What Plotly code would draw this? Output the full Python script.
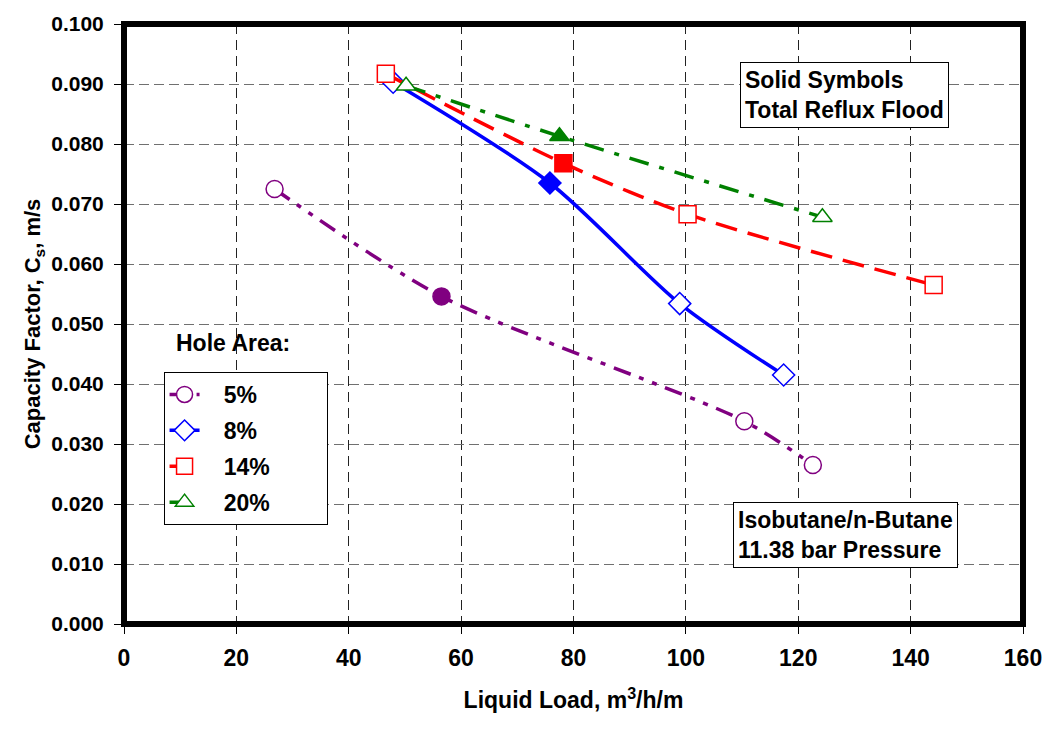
import plotly.graph_objects as go

# Data
x_5 = [26.8, 56.5, 110.4, 122.6]
y_5 = [0.0725, 0.0546, 0.0338, 0.0265]
solid_5 = [False, True, False, False]

x_8 = [47.9, 75.8, 98.9, 117.4]
y_8 = [0.0903, 0.0735, 0.0534, 0.0415]
solid_8 = [False, True, False, False]

x_14 = [46.6, 78.2, 100.3, 144.1]
y_14 = [0.0917, 0.0768, 0.0683, 0.0565]
solid_14 = [False, True, False, False]

x_20 = [50.2, 77.5, 124.3]
y_20 = [0.0897, 0.0813, 0.0678]
solid_20 = [False, True, False]

legend_names = ["5%", "8%", "14%", "20%"]

series = [
    (legend_names[0], x_5, y_5, solid_5, "#800080", "circle", 17, "18px,9px,5px,9px,5px,9px"),
    (legend_names[1], x_8, y_8, solid_8, "#0000FF", "diamond", 17, "solid"),
    (legend_names[2], x_14, y_14, solid_14, "#FF0000", "square", 17, "22px,11px"),
    (legend_names[3], x_20, y_20, solid_20, "#008000", "triangle-up", 17, "20px,11px,5px,11px"),
]

NB = "\u00a0"
fig = go.Figure()
for name, xs, ys, solid, color, sym, size, dash in series:
    fig.add_trace(go.Scatter(
        x=xs, y=ys, name=NB * 3 + name + NB * 8, mode="lines+markers", legendgroup=name,
        line=dict(color=color, width=3.5, dash=dash, shape="spline", smoothing=0.8),
        marker=dict(symbol=sym, size=size,
                    color=[color if s else "white" for s in solid],
                    line=dict(color=color, width=1.5)),
    ))

font_family = "Liberation Sans, Arial, sans-serif"
axis_common = dict(
    showline=False,
    ticks="outside", ticklen=9, tickcolor="black", tickwidth=1,
    showgrid=True, gridwidth=1.3,
    zeroline=False,
)

fig.update_xaxes(
    range=[0, 160], dtick=20, gridcolor="#222222", griddash="10px,6px",
    ticklabelstandoff=4,
    tickfont=dict(family=font_family, size=23, color="black", weight="bold"),
    title=dict(text="Liquid Load, m<sup>3</sup>/h/m", standoff=22,
               font=dict(family=font_family, size=23, color="black", weight="bold")),
    **axis_common,
)
fig.update_yaxes(
    range=[0, 0.1], dtick=0.01, tickformat=".3f", gridcolor="#707070", griddash="10px,5px",
    ticklabelstandoff=6,
    tickfont=dict(family=font_family, size=21, color="black", weight="bold"),
    title=dict(text="Capacity Factor, C<sub>s</sub>, m/s", standoff=4,
               font=dict(family=font_family, size=22, color="black", weight="bold")),
    **axis_common,
)

# thick plot frame
fig.add_shape(type="rect", xref="paper", yref="paper", x0=0, y0=0, x1=1, y1=1,
              line=dict(color="black", width=6), layer="above")

fig.add_annotation(
    x=0.056, y=0.468, xref="paper", yref="paper", xanchor="left", yanchor="middle",
    text="<b>Hole Area:</b>", showarrow=False,
    font=dict(family=font_family, size=23, color="black"),
)
fig.add_annotation(
    x=0.6855, y=0.827, xref="paper", yref="paper", xanchor="left", yanchor="bottom",
    text="<b>Solid Symbols<br>Total Reflux Flood</b>", showarrow=False, align="left",
    bordercolor="black", borderwidth=1, borderpad=4, bgcolor="white",
    font=dict(family=font_family, size=23, color="black"),
)
fig.add_annotation(
    x=0.6775, y=0.094, xref="paper", yref="paper", xanchor="left", yanchor="bottom",
    text="<b>Isobutane/n-Butane<br>11.38 bar Pressure</b>", showarrow=False, align="left",
    bordercolor="black", borderwidth=1, borderpad=4, bgcolor="white",
    font=dict(family=font_family, size=23, color="black"),
)

fig.update_layout(
    width=1054, height=729,
    margin=dict(l=124, r=24, t=24, b=105),
    paper_bgcolor="white", plot_bgcolor="white",
    font=dict(family=font_family, color="black"),
    legend=dict(
        x=0.044, y=0.42, xanchor="left", yanchor="top",
        bordercolor="black", borderwidth=1, bgcolor="white",
        font=dict(family=font_family, size=23, color="black", weight="bold"),
        tracegroupgap=3,
    ),
)

fig.write_html("out.html")
